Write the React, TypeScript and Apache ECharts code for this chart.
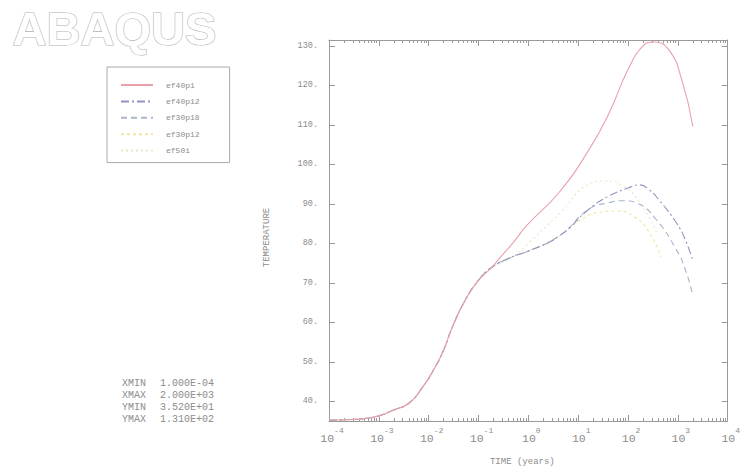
import React, { useEffect, useRef } from "react";
import * as echarts from "echarts";

// Shared early-time rise (years, temperature)
const commonTime = [1e-4, 2e-4, 5e-4, 1e-3, 2e-3, 4e-3, 7.5e-3, 1.3e-2, 2e-2, 2.9e-2, 5.2e-2, 9.5e-2, 0.18];
const commonTemp = [35.2, 35.3, 35.6, 36.3, 37.8, 39.5, 43.5, 48.3, 53.0, 58.4, 65.2, 70.3, 73.8];

// Shared middle part of the three lower curves
const midTime = [0.52, 0.91, 4.2];
const midTemp = [76.8, 77.8, 81.9];

const ef40p1Time = [0.3, 0.52, 0.91, 4.2, 16.6, 41.7, 100, 200, 330, 660, 1200, 2000];
const ef40p1Temp = [77.0, 80.5, 84.4, 93.0, 103.8, 113.0, 124.0, 130.0, 131.0, 129.0, 121.4, 109.6];

const ef40p12Time = [16.6, 41.7, 100, 166, 260, 417, 912, 1400, 2000];
const ef40p12Temp = [88.7, 92.0, 94.0, 94.8, 93.7, 91.0, 85.4, 81.0, 75.6];

const ef30p18Time = [16.6, 41.7, 80, 150, 363, 912, 1400, 2000];
const ef30p18Temp = [88.7, 90.3, 90.8, 90.2, 86.1, 78.6, 73.5, 66.7];

const ef30p12Time = [10, 25, 60, 130, 260, 460];
const ef30p12Temp = [85.5, 87.8, 88.2, 86.8, 83.0, 76.5];

const ef50Time = [0.52, 0.91, 4.2, 16.6, 35, 80, 180, 400];
const ef50Temp = [76.8, 79.5, 87.5, 95.0, 95.8, 94.5, 90.0, 82.0];

const seriesNames = ["ef40p1", "ef40p12", "ef30p18", "ef30p12", "ef50i"];
const seriesColors = ["#eaa0aa", "#8e94bf", "#aab4cd", "#efe6a2", "#ece7c4"];

const xExponents = [-4, -3, -2, -1, 0, 1, 2, 3, 4];
const yTicks = [40, 50, 60, 70, 80, 90, 100, 110, 120, 130];

const statLabels = ["XMIN", "XMAX", "YMIN", "YMAX"];
const statValues = ["1.000E-04", "2.000E+03", "3.520E+01", "1.310E+02"];

const MONO = "'Liberation Mono', 'DejaVu Sans Mono', monospace";
const AXIS = "#9a9a9a";
const TXT = "#8c8c8c";

function pairs(ts: number[], vs: number[]) {
  return ts.map((t, i) => [Math.log10(t), vs[i]]);
}

function minorLogTicks() {
  const out: number[] = [];
  for (let e = xExponents[0]; e < xExponents[xExponents.length - 1]; e++) {
    for (let k = 2; k <= 9; k++) out.push(e + Math.log10(k));
  }
  return out;
}

export default function App() {
  const ref = useRef<HTMLDivElement>(null);
  useEffect(() => {
    if (!ref.current) return;
    const chart = echarts.init(ref.current, null, { renderer: "svg" });
    const common = pairs(commonTime, commonTemp);
    const mid = pairs(midTime, midTemp);
    const data = [
      [...common, ...pairs(ef40p1Time, ef40p1Temp)],
      [...common, ...mid, ...pairs(ef40p12Time, ef40p12Temp)],
      [...common, ...mid, ...pairs(ef30p18Time, ef30p18Temp)],
      [...common, ...mid, ...pairs(ef30p12Time, ef30p12Temp)],
      [...common, ...pairs(ef50Time, ef50Temp)],
    ];
    const lineTypes: any[] = ["solid", [8, 3, 2, 3], [6, 4], [3, 3], [2, 3]];
    const minor = minorLogTicks();
    const baseX = { type: "value", min: xExponents[0], max: xExponents[xExponents.length - 1], gridIndex: 0 };
    chart.setOption({
      animation: false,
      backgroundColor: "#ffffff",
      grid: { left: 329, right: 12, top: 40, bottom: 49 },
      legend: {
        orient: "vertical",
        left: 107,
        top: 67,
        padding: [14, 30, 8, 13],
        itemWidth: 32,
        itemHeight: 8,
        itemGap: 8.4,
        borderColor: "#aaaaaa",
        borderWidth: 1,
        itemStyle: { opacity: 0 },
        textStyle: { fontFamily: MONO, fontSize: 8, color: TXT, padding: [0, 0, 0, 8] },
        data: seriesNames,
      },
      xAxis: [
        {
          ...baseX,
          interval: 1,
          position: "bottom",
          name: "TIME (years)",
          nameLocation: "middle",
          nameGap: 36,
          nameTextStyle: { fontFamily: MONO, fontSize: 9, color: TXT, padding: [0, 12, 0, 0] },
          axisLine: { show: true, onZero: false, lineStyle: { color: AXIS } },
          axisTick: { show: true, inside: true, length: 6, lineStyle: { color: AXIS } },
          splitLine: { show: false },
          axisLabel: {
            margin: 5,
            padding: [0, 0, 0, 6],
            formatter: (v: number) => `{b|10}{s|${v}}`,
            rich: {
              b: { fontFamily: MONO, fontSize: 11.5, color: TXT, lineHeight: 18, verticalAlign: "bottom" },
              s: { fontFamily: MONO, fontSize: 8, color: TXT, verticalAlign: "top" },
            },
          },
        },
        {
          ...baseX,
          position: "bottom",
          axisLine: { show: false, onZero: false },
          axisLabel: { show: false },
          splitLine: { show: false },
          axisTick: { show: true, inside: true, length: 3, customValues: minor, lineStyle: { color: AXIS } },
        },
        {
          ...baseX,
          interval: 1,
          position: "top",
          axisLine: { show: true, onZero: false, lineStyle: { color: AXIS } },
          axisLabel: { show: false },
          splitLine: { show: false },
          axisTick: { show: true, inside: true, length: 6, lineStyle: { color: AXIS } },
        },
        {
          ...baseX,
          position: "top",
          axisLine: { show: false, onZero: false },
          axisLabel: { show: false },
          splitLine: { show: false },
          axisTick: { show: true, inside: true, length: 3, customValues: minor, lineStyle: { color: AXIS } },
        },
      ],
      yAxis: [
        {
          type: "value",
          min: 35,
          max: 131.5,
          position: "left",
          name: "TEMPERATURE",
          nameLocation: "middle",
          nameGap: 58,
          nameRotate: 90,
          nameTextStyle: { fontFamily: MONO, fontSize: 9, color: TXT, padding: [0, 14, 0, 0] },
          axisLine: { show: true, onZero: false, lineStyle: { color: AXIS } },
          axisTick: { show: true, inside: true, length: 6, customValues: yTicks, lineStyle: { color: AXIS } },
          axisLabel: {
            customValues: yTicks,
            margin: 11,
            fontFamily: MONO,
            fontSize: 8.5,
            color: TXT,
            formatter: (v: number) => `${v}.`,
          },
          splitLine: { show: false },
        },
        {
          type: "value",
          min: 35,
          max: 131.5,
          position: "right",
          axisLine: { show: true, onZero: false, lineStyle: { color: AXIS } },
          axisTick: { show: true, inside: true, length: 6, customValues: yTicks, lineStyle: { color: AXIS } },
          axisLabel: { show: false },
          splitLine: { show: false },
        },
      ],
      series: seriesNames.map((name, i) => ({
        name,
        type: "line",
        xAxisIndex: 0,
        yAxisIndex: 0,
        data: data[i],
        symbol: "none",
        smooth: 0.5,
        color: seriesColors[i],
        lineStyle: { width: 1.1, color: seriesColors[i], type: lineTypes[i] },
        z: 10 - i,
      })),
      graphic: [
        {
          type: "text",
          left: 12,
          top: 4,
          style: {
            text: "ABAQUS",
            font: "bold 47px 'Liberation Sans', Arial, sans-serif",
            fill: "#ffffff",
            stroke: "#b4b4b4",
            lineWidth: 1.2,
          },
        },
        ...statLabels.map((s, i) => ({
          type: "text",
          left: 122,
          top: 378 + i * 12.3,
          style: { text: s, font: `10px ${MONO}`, fill: TXT },
        })),
        ...statValues.map((s, i) => ({
          type: "text",
          left: 160,
          top: 378 + i * 12.3,
          style: { text: s, font: `10px ${MONO}`, fill: TXT },
        })),
      ],
    });
    return () => chart.dispose();
  }, []);
  return <div ref={ref} style={{ width: 743, height: 471, position: "absolute", left: 0, top: 0 }} />;
}
